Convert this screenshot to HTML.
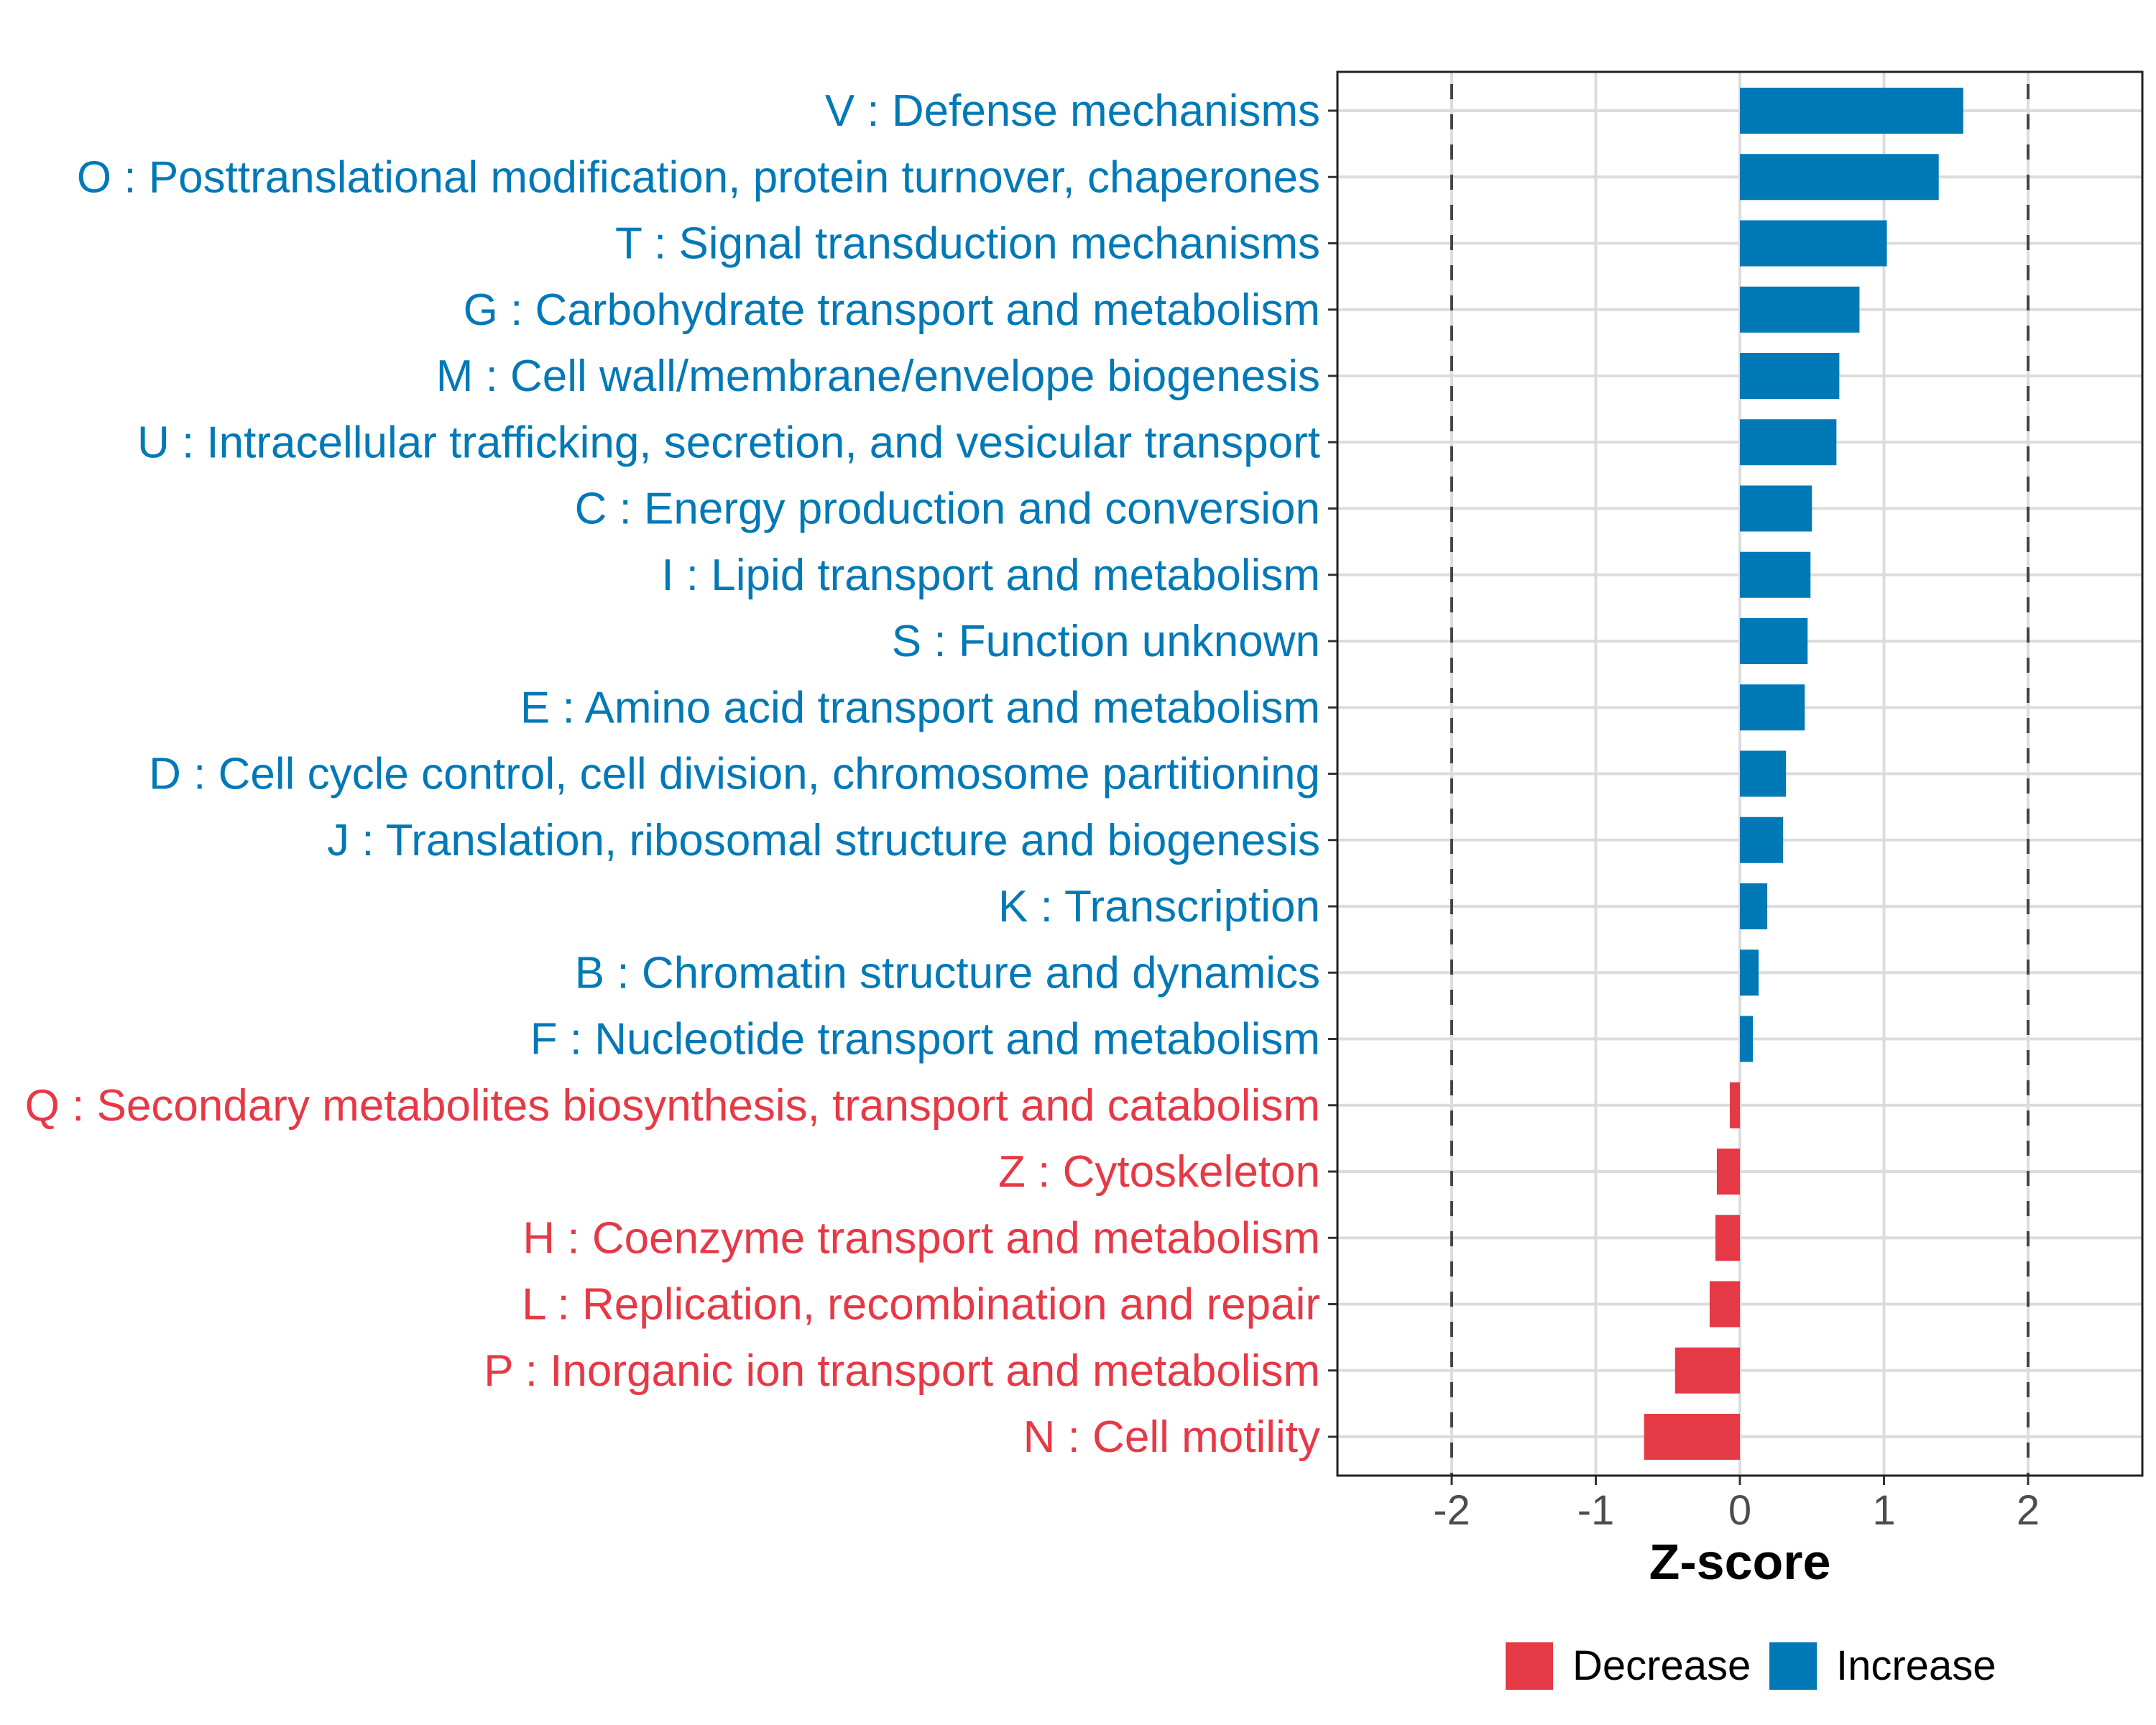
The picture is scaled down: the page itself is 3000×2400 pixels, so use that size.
<!DOCTYPE html>
<html><head><meta charset="utf-8"><style>
html,body{margin:0;padding:0;background:#fff;}
svg{display:block;font-family:"Liberation Sans",Arial,sans-serif;}
</style></head><body>
<svg id="chart" width="3000" height="2400" viewBox="0 0 3000 2400" xmlns="http://www.w3.org/2000/svg">
<rect x="0" y="0" width="3000" height="2400" fill="#fff"/>
<g id="grid"></g>
<g id="bars"></g>
<g id="ylabels"></g>
<g id="xaxis"></g>
<rect x="1861" y="100" width="1120" height="1953" fill="none" stroke="#222" stroke-width="3"/>
<text x="2421" y="2197" text-anchor="middle" font-size="70" font-weight="bold" fill="#000">Z-score</text>
<g>
<rect x="2095" y="2285" width="66" height="66" fill="#E63946"/>
<text x="2188" y="2337" font-size="58" fill="#000">Decrease</text>
<rect x="2462" y="2285" width="66" height="66" fill="#0279B7"/>
<text x="2555" y="2337" font-size="58" fill="#000">Increase</text>
</g>
</svg>
<script>
const categories = ["V : Defense mechanisms","O : Posttranslational modification, protein turnover, chaperones","T : Signal transduction mechanisms","G : Carbohydrate transport and metabolism","M : Cell wall/membrane/envelope biogenesis","U : Intracellular trafficking, secretion, and vesicular transport","C : Energy production and conversion","I : Lipid transport and metabolism","S : Function unknown","E : Amino acid transport and metabolism","D : Cell cycle control, cell division, chromosome partitioning","J : Translation, ribosomal structure and biogenesis","K : Transcription","B : Chromatin structure and dynamics","F : Nucleotide transport and metabolism","Q : Secondary metabolites biosynthesis, transport and catabolism","Z : Cytoskeleton","H : Coenzyme transport and metabolism","L : Replication, recombination and repair","P : Inorganic ion transport and metabolism","N : Cell motility"];
const zscores = [1.55,1.38,1.02,0.83,0.69,0.67,0.50,0.49,0.47,0.45,0.32,0.30,0.19,0.13,0.09,-0.07,-0.16,-0.17,-0.21,-0.45,-0.665];
const xTicks = [-2,-1,0,1,2];
const xTickLabels = ["-2","-1","0","1","2"];
const thresholds = [-2,2];

const NS="http://www.w3.org/2000/svg";
const panelL=1861, panelR=2981, panelT=100, panelB=2053;
function xs(v){return 2421 + v*200.5;}
function ys(i){return 154 + i*92.25;}
function mk(tag,attrs,parent){const e=document.createElementNS(NS,tag);for(const k in attrs)e.setAttribute(k,attrs[k]);parent.appendChild(e);return e;}
const grid=document.getElementById('grid'), bars=document.getElementById('bars'), yl=document.getElementById('ylabels'), xa=document.getElementById('xaxis');
xTicks.forEach((t,i)=>{
  const l=mk('line',{x1:xs(t),x2:xs(t),y1:panelT,y2:panelB,stroke:'#DCDCDC','stroke-width':4},grid);
  
  
  const tk=mk('line',{x1:xs(t),x2:xs(t),y1:panelB,y2:panelB+13,stroke:'#333','stroke-width':3},xa);
  
  
  const tx=mk('text',{x:xs(t),y:2121,'text-anchor':'middle','font-size':58,fill:'#4D4D4D'},xa);
  tx.textContent=xTickLabels[i];
  
  
});
categories.forEach((c,i)=>{
  const y=ys(i);
  const g=mk('line',{x1:panelL,x2:panelR,y1:y,y2:y,stroke:'#DCDCDC','stroke-width':4},grid);
  
  
});
thresholds.forEach(t=>{
  const d=mk('line',{x1:xs(t),x2:xs(t),y1:panelT,y2:panelB,stroke:'#444','stroke-width':4,'stroke-dasharray':'21 21','stroke-dashoffset':'-17'},grid);
  
  
});
categories.forEach((c,i)=>{
  const v=zscores[i], y=ys(i), col=v>=0?'#0279B7':'#E63946';
  const x0=Math.min(xs(0),xs(v)), w=Math.abs(xs(v)-xs(0));
  const b=mk('rect',{x:x0,y:y-32,width:w,height:64,fill:col},bars);
  
  
  const tk=mk('line',{x1:panelL-13,x2:panelL,y1:y,y2:y,stroke:'#333','stroke-width':3},yl);
  
  
  const t=mk('text',{x:1837,y:y+21,'text-anchor':'end','font-size':62,fill:col},yl);
  t.textContent=c;
  
  
});
</script>
</body></html>
